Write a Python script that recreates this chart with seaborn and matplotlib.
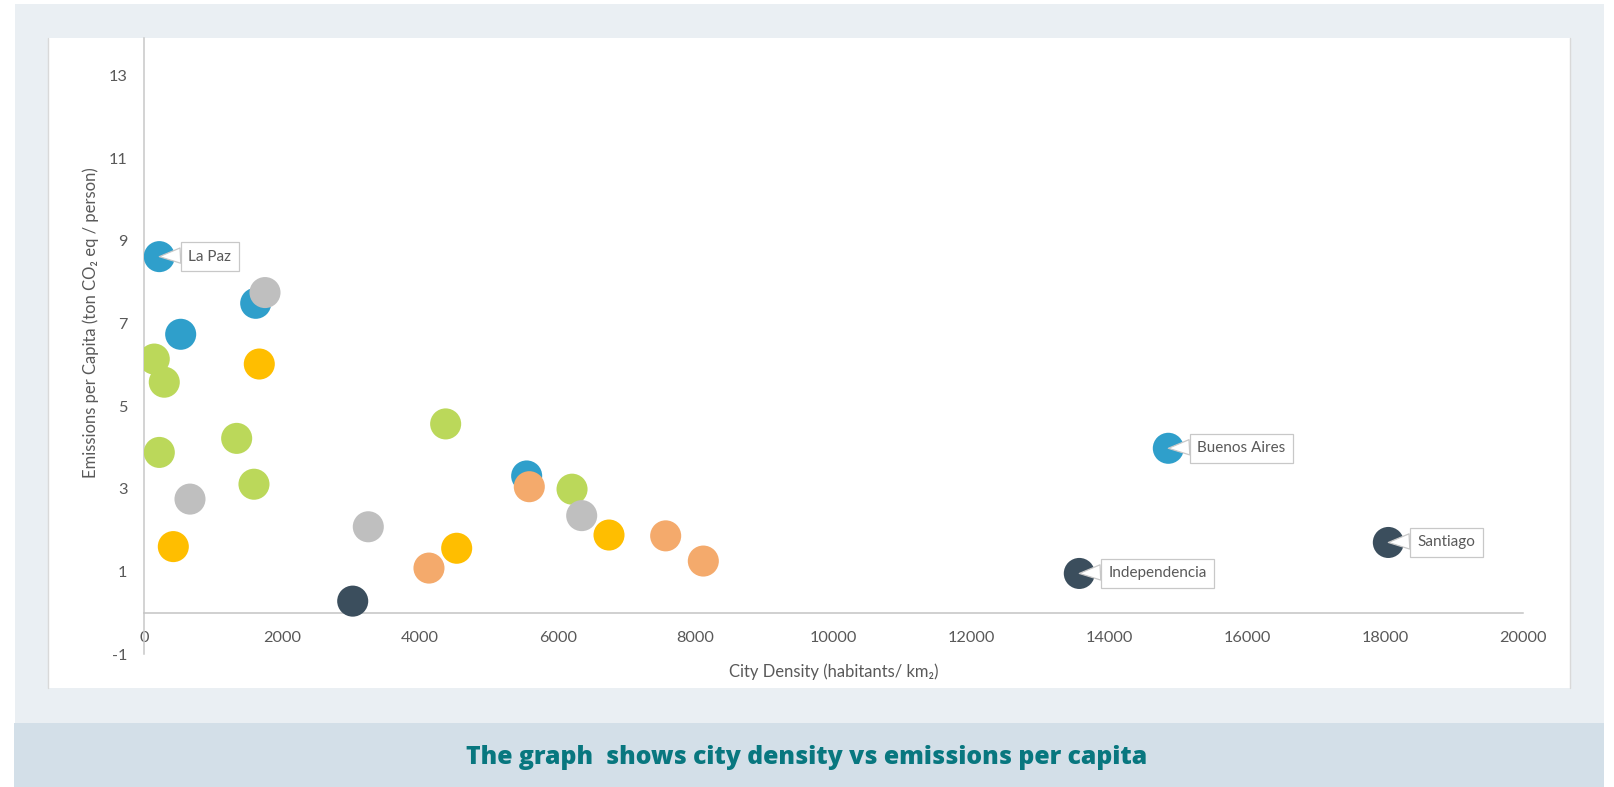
import numpy as np
import pandas as pd
import matplotlib
matplotlib.use("Agg")
import matplotlib.pyplot as plt
import seaborn as sns
from matplotlib.patches import Rectangle
from matplotlib.lines import Line2D

# data
density = [222, 1620, 532, 5550, 14856,
           149, 294, 222, 1344, 1595, 4375, 6208,
           1755, 667, 3253, 6348,
           1672, 425, 4535, 6744,
           4133, 5588, 7566, 8112,
           3027, 13565, 18047]
emissions = [8.62, 7.49, 6.74, 3.31, 3.98,
             6.14, 5.58, 3.88, 4.22, 3.11, 4.57, 2.99,
             7.75, 2.75, 2.08, 2.35,
             6.02, 1.60, 1.56, 1.88,
             1.08, 3.05, 1.86, 1.25,
             0.28, 0.95, 1.70]
group = (["blue"] * 5 + ["green"] * 7 + ["gray"] * 4 + ["gold"] * 4
         + ["peach"] * 4 + ["dark"] * 3)
city = ["La Paz", "", "", "", "Buenos Aires",
        "", "", "", "", "", "", "",
        "", "", "", "",
        "", "", "", "",
        "", "", "", "",
        "", "Independencia", "Santiago"]

group_order = ["blue", "green", "gray", "gold", "peach", "dark"]
palette = {"blue": "#2f9fcb", "green": "#bbd85a", "gray": "#bfbfbf",
           "gold": "#ffbe00", "peach": "#f4aa6c", "dark": "#3b4e5d"}

xticks = np.arange(0, 20001, 2000)
yticks = np.arange(-1, 14, 2)

sns.set_style("white")
plt.rcParams['font.family'] = ['Lato', 'DejaVu Sans']

df = pd.DataFrame({"density": density, "emissions": emissions,
                   "group": group, "city": city})
df["group"] = pd.Categorical(df["group"], categories=group_order, ordered=True)
df = df.sort_values("group", kind="stable")

W, H = 1614, 787
fig = plt.figure(figsize=(W / 100, H / 100), dpi=100)
fig.patch.set_facecolor("white")

# page background, chart panel and caption band
fig.add_artist(Rectangle((15 / W, 0), (1604 - 15) / W, (H - 4) / H,
                         transform=fig.transFigure, fc="#eaeff3", ec="none", zorder=-3))
fig.add_artist(Rectangle((14 / W, 0), (1604 - 14) / W, (H - 723) / H,
                         transform=fig.transFigure, fc="#d3dfe8", ec="none", zorder=-2))
fig.add_artist(Rectangle((48 / W, (H - 688) / H), (1570 - 48) / W, 650 / H,
                         transform=fig.transFigure, fc="white", ec="none", zorder=-1))
for xe in (48, 1570):
    fig.add_artist(Line2D([xe / W, xe / W], [(H - 688) / H, (H - 38) / H],
                          transform=fig.transFigure, color="#d9d9d9", lw=1.0, zorder=-1))

ax = fig.add_axes([144 / W, (H - 654) / H, (1523 - 144) / W, (654 - 37.7) / H])
ax.set_facecolor("none")

sns.scatterplot(data=df, x="density", y="emissions", hue="group", palette=palette,
                s=500, linewidth=0, legend=False, ax=ax, zorder=3)

ax.set_xlim(0, 20000)
ax.set_ylim(-1, 13.92)
ax.set_xticks(xticks)
ax.set_yticks(yticks)
ax.set_xticklabels([str(v) for v in xticks])
ax.set_yticklabels([str(v) for v in yticks])
for s in ("top", "right"):
    ax.spines[s].set_visible(False)
ax.spines["bottom"].set_position(("data", 0))
ax.spines["bottom"].set_color("#c4c4c4")
ax.spines["left"].set_color("#c8c8c8")
ax.spines["bottom"].set_linewidth(1.1)
ax.spines["left"].set_linewidth(1.1)
ax.tick_params(axis="both", length=0, colors="#595959", labelsize=11.7)
ax.tick_params(axis="x", pad=13.5)
ax.tick_params(axis="y", pad=12)

ax.set_xlabel("City Density (habitants/ km₂)", fontsize=12, color="#595959", va="center")
ax.xaxis.set_label_coords(0.5, -0.029)
ax.set_ylabel("Emissions per Capita (ton CO₂ eq / person)", fontsize=12,
              color="#595959", va="center")
ax.yaxis.set_label_coords(-0.0384, 0.537)

# callouts
for _, row in df[df["city"] != ""].iterrows():
    ax.annotate(row["city"], xy=(row["density"], row["emissions"]),
                xytext=(21, 0), textcoords="offset points",
                ha="left", va="center", fontsize=11, color="#595959", zorder=5,
                bbox=dict(boxstyle="square,pad=0.5", fc="white", ec="#c8c8c8", lw=0.9),
                arrowprops=dict(arrowstyle="wedge,tail_width=1.0,shrink_factor=0.5",
                                fc="white", ec="#c8c8c8", lw=0.9, relpos=(0, 0.6),
                                shrinkA=0, shrinkB=0))

fig.text(0.5, 1 - 757 / H, "The graph  shows city density vs emissions per capita",
         ha="center", va="center", fontsize=17.8, fontweight="heavy",
         color="#08777f", family=["Open Sans", "DejaVu Sans"])

fig.savefig("out.png", dpi=100)
